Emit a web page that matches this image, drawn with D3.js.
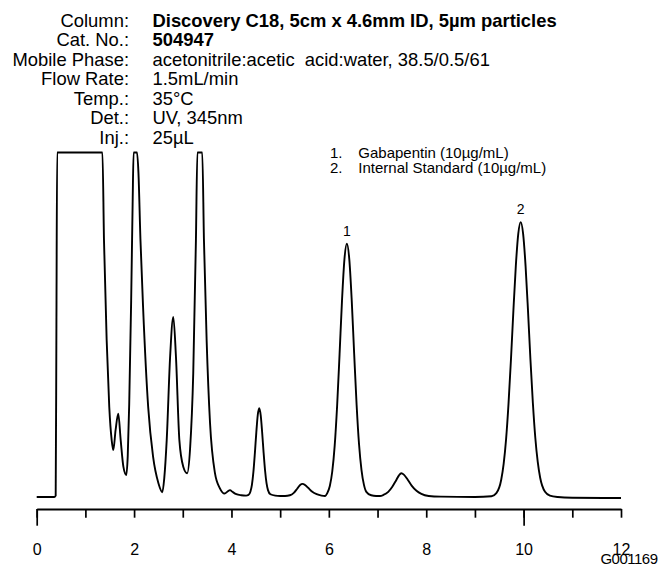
<!DOCTYPE html>
<html>
<head>
<meta charset="utf-8">
<script src="https://cdn.jsdelivr.net/npm/d3@7"></script>
<style>
  html, body { margin: 0; padding: 0; background: #fff; }
  svg { display: block; font-family: "Liberation Sans", Arial, sans-serif; }
</style>
</head>
<body>
<div id="chart"></div>
<script>
// conditions block
var headerLabels = ["Column:", "Cat. No.:", "Mobile Phase:", "Flow Rate:", "Temp.:", "Det.:", "Inj.:"];
var headerValues = ["Discovery C18, 5cm x 4.6mm ID, 5µm particles", "504947",
  "acetonitrile:acetic  acid:water, 38.5/0.5/61", "1.5mL/min", "35°C", "UV, 345nm", "25µL"];
var headerBold = [true, true, false, false, false, false, false];

// peak legend
var legendNums = ["1.", "2."];
var legendNames = ["Gabapentin (10µg/mL)", "Internal Standard (10µg/mL)"];
var peakIds = ["1", "2"];
var peakTimes = [6.37, 9.94];

// axis
var minorTicks = [0, 1, 2, 3, 4, 5, 6, 7, 8, 9, 10, 11, 12];
var majorTicks = [0, 10];
var tickLabels = [0, 2, 4, 6, 8, 10, 12];
var figureCode = "G001169";

// detector trace [min, response] (flat tops = detector over range)
var trace = [
  [0.00, 0.0], [0.36, 0.0], [0.39, 0.4], [0.405, 50], [0.42, 100], [1.35, 100],
  [1.382, 74.5], [1.437, 45.5], [1.49, 26.2], [1.54, 16.5], [1.573, 13.6], [1.62, 19.4],
  [1.675, 24.2], [1.725, 16.5], [1.78, 8.8], [1.84, 6.4], [1.87, 12], [1.90, 27],
  [1.94, 57], [1.97, 85], [1.99, 100], [2.06, 100], [2.09, 94], [2.13, 75],
  [2.185, 55], [2.29, 26], [2.39, 11.7], [2.50, 4.0], [2.58, 1.4], [2.62, 5.5],
  [2.67, 16.5], [2.74, 40.7], [2.805, 52.3], [2.86, 40.7], [2.93, 16.5], [3.01, 8.8],
  [3.09, 6.9], [3.15, 14], [3.215, 35.9], [3.27, 74.5], [3.30, 100], [3.40, 100],
  [3.435, 74.5], [3.49, 45.5], [3.56, 21.4], [3.66, 7.0], [3.76, 2.6], [3.86, 1.0],
  [3.92, 1.6], [3.97, 2.0], [4.02, 1.5], [4.10, 0.8], [4.20, 0.5], [4.30, 0.4],
  [4.35, 0.6], [4.39, 1.6], [4.42, 3.5], [4.45, 7.2], [4.48, 12.6], [4.51, 18.7],
  [4.54, 23.8], [4.57, 25.8], [4.60, 23.8], [4.63, 18.8], [4.66, 12.9], [4.69, 7.7],
  [4.72, 4.0], [4.75, 2.0], [4.80, 0.8], [4.90, 0.4], [5.00, 0.3], [5.10, 0.3],
  [5.20, 0.5], [5.28, 1.2], [5.35, 2.4], [5.41, 3.5], [5.46, 3.8], [5.51, 3.5],
  [5.58, 2.6], [5.66, 1.5], [5.75, 0.8], [5.85, 0.4], [5.92, 0.3], [5.97, 1.2],
  [6.02, 3.2], [6.07, 7.4], [6.12, 14.9], [6.17, 26.5], [6.22, 41.4], [6.27, 57.0],
  [6.32, 69.0], [6.37, 73.5], [6.42, 69.0], [6.47, 57.0], [6.52, 41.6], [6.57, 26.8],
  [6.62, 15.3], [6.67, 7.9], [6.72, 3.6], [6.77, 1.5], [6.87, 0.5], [6.97, 0.3],
  [7.05, 0.3], [7.12, 0.6], [7.22, 1.5], [7.30, 2.9], [7.38, 4.8], [7.44, 6.3],
  [7.49, 6.9], [7.54, 6.5], [7.62, 5.0], [7.70, 3.3], [7.80, 1.8], [7.90, 0.9],
  [8.05, 0.3], [8.30, 0.1], [9.00, 0.0], [9.34, 0.2], [9.44, 1.1], [9.54, 5.0],
  [9.59, 9.6], [9.64, 16.8], [9.69, 27.1], [9.74, 39.9], [9.79, 54.1], [9.84, 67.1],
  [9.89, 76.4], [9.94, 79.8], [9.99, 76.4], [10.04, 67.1], [10.09, 54.1], [10.14, 39.9],
  [10.19, 27.3], [10.24, 17.2], [10.29, 10.2], [10.34, 5.6], [10.44, 1.5], [10.54, 0.4],
  [10.70, 0.0], [11.00, -0.2], [12.00, -0.3]
];

var width = 658, height = 571;

var svg = d3.select("#chart")
  .append("svg")
    .attr("width", width)
    .attr("height", height);

var x = d3.scaleLinear()
    .domain([0, 12])
    .range([36.7, 621]);

var y = d3.scaleLinear()
    .domain([0, 100])
    .range([497, 152.5]);

var axisY = 509;

// header text
var header = svg.append("g").attr("font-size", 18.4).attr("fill", "#000");
header.selectAll("text.lab")
  .data(headerLabels)
  .enter().append("text")
    .attr("class", "lab")
    .attr("x", 129)
    .attr("y", function(d, i) { return 26.7 + i * 19.5; })
    .attr("text-anchor", "end")
    .text(function(d) { return d; });
header.selectAll("text.val")
  .data(headerValues)
  .enter().append("text")
    .attr("class", "val")
    .attr("x", 152.5)
    .attr("y", function(d, i) { return 26.7 + i * 19.5; })
    .attr("font-weight", function(d, i) { return headerBold[i] ? "bold" : "normal"; })
    .style("white-space", "pre")
    .text(function(d) { return d; });

// legend
var legend = svg.append("g").attr("font-size", 15);
legend.selectAll("text.num")
  .data(legendNums)
  .enter().append("text")
    .attr("class", "num")
    .attr("x", 330)
    .attr("y", function(d, i) { return 158.3 + i * 15; })
    .text(function(d) { return d; });
legend.selectAll("text.name")
  .data(legendNames)
  .enter().append("text")
    .attr("class", "name")
    .attr("x", 358.3)
    .attr("y", function(d, i) { return 158.3 + i * 15; })
    .text(function(d) { return d; });

// chromatogram
var line = d3.line()
    .x(function(d) { return x(d[0]); })
    .y(function(d) { return y(d[1]); })
    .curve(d3.curveMonotoneX);

svg.append("path")
    .datum(trace)
    .attr("fill", "none")
    .attr("stroke", "#000")
    .attr("stroke-width", 1.9)
    .attr("stroke-linejoin", "round")
    .attr("d", line);

// peak numbers over the two labelled peaks
svg.selectAll("text.peak")
  .data(peakIds)
  .enter().append("text")
    .attr("class", "peak")
    .attr("font-size", 14)
    .attr("text-anchor", "middle")
    .attr("x", function(d, i) { return x(peakTimes[i]); })
    .attr("y", function(d, i) {
      var top = d3.max(trace.filter(function(p) { return Math.abs(p[0] - peakTimes[i]) < 0.1; }),
        function(p) { return p[1]; });
      return y(top) - 8;
    })
    .text(function(d) { return d; });

// time axis: short ticks every minute, long ticks at 0 and 10
var axisG = svg.append("g")
    .attr("transform", "translate(0," + axisY + ")")
    .call(d3.axisBottom(x).tickValues(minorTicks).tickSize(8.7).tickSizeOuter(0).tickFormat(""));
axisG.select(".domain").attr("stroke-width", 2);
axisG.selectAll(".tick line").attr("stroke-width", 1.7);

var majorG = svg.append("g")
    .attr("transform", "translate(0," + axisY + ")")
    .call(d3.axisBottom(x).tickValues(majorTicks).tickSize(16.7).tickSizeOuter(0).tickFormat(""));
majorG.select(".domain").remove();
majorG.selectAll(".tick line").attr("stroke-width", 1.7);

var labelG = svg.append("g")
    .attr("transform", "translate(0," + axisY + ")")
    .call(d3.axisBottom(x).tickValues(tickLabels).tickSize(0).tickPadding(34.6).tickFormat(d3.format("d")));
labelG.select(".domain").remove();
labelG.selectAll("text")
    .attr("font-size", 16)
    .attr("font-family", "Liberation Sans, Arial, sans-serif")
    .attr("fill", "#000");

svg.append("text")
    .attr("x", 657.5)
    .attr("y", 564)
    .attr("text-anchor", "end")
    .attr("font-size", 15)
    .attr("letter-spacing", -0.5)
    .text(figureCode);
</script>
</body>
</html>
